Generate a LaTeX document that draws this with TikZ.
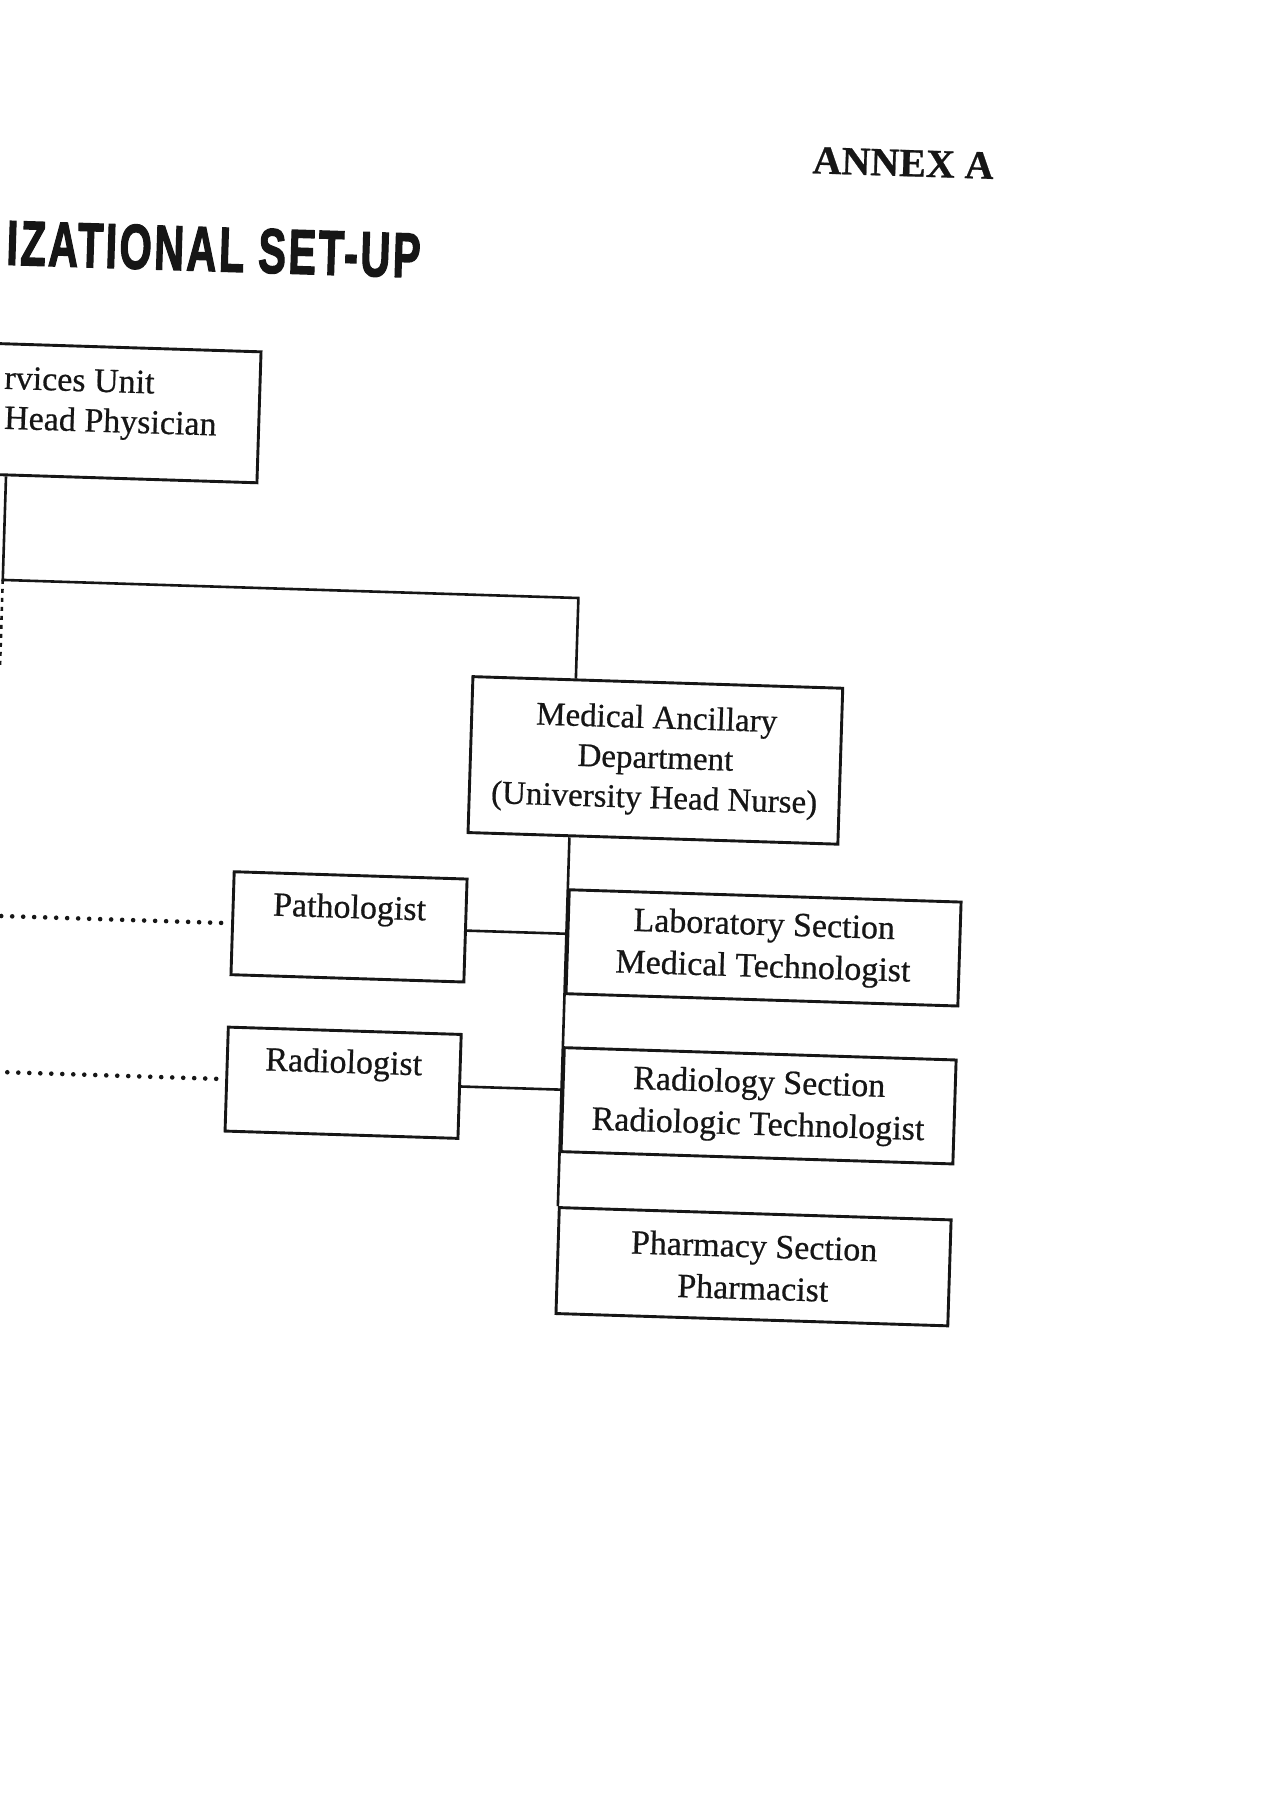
\documentclass[tikz,border=0pt]{standalone}
\usepackage{fontspec}
\usepackage{graphicx}
\setmainfont{Liberation Serif}[FakeBold=0.6]
\newfontfamily\titlefont{Liberation Sans}[BoldFeatures={FakeBold=2.5}, LetterSpace=6]
\definecolor{ink}{HTML}{161616}
\begin{document}
\begin{tikzpicture}[x=0.5pt,y=0.5pt,
  sbox/.style={draw=ink, line width=1.45pt, inner sep=0pt, align=center, text=ink, font=\fontsize{17pt}{21pt}\selectfont},
  lbl/.style={inner sep=0pt, text=ink, font=\fontsize{17pt}{21pt}\selectfont},
  link/.style={draw=ink, line width=1.3pt},
  dotline/.style={draw=ink, line width=2.3pt, line cap=round, dash pattern=on 0pt off 5.5pt},
  vdash/.style={draw=ink, line width=1.3pt, dash pattern=on 2pt off 2.5pt},
]
\useasboundingbox (0,0) rectangle (1275,1800);
\fill[white] (0,0) rectangle (1275,1800);
\clip (0,0) rectangle (1275,1800);
\begin{scope}[rotate around={-1.8:(640,900)}, transform shape]
  % headings
  \node[inner sep=0pt, text=ink, font=\bfseries\fontsize{20pt}{24pt}\selectfont] (annex) at (880,1645) {ANNEX A};
  \node[anchor=west, inner sep=0pt, text=ink] (title) at (-14,1537) {\resizebox{207pt}{22pt}{\titlefont\bfseries IZATIONAL SET-UP}};

  % top box (cut at the left edge)
  \node[sbox, minimum width=197pt, minimum height=65.5pt] (phys) at (47,1370.5) {};
  \node[lbl, anchor=base west] (physA) at (-12,1391) {rvices Unit};
  \node[lbl, anchor=base west] (physB) at (-11,1351) {Head Physician};

  % department
  \node[sbox, font=\fontsize{16.5pt}{20pt}\selectfont, minimum width=185pt, minimum height=78pt] (med) at (651,1040) {Medical Ancillary\\Department\\(University Head Nurse)};

  % sections
  \node[sbox, minimum width=196pt, minimum height=52pt] (lab) at (765,856) {Laboratory Section\\Medical Technologist};
  \node[sbox, minimum width=196pt, minimum height=52pt] (rads) at (765,698) {Radiology Section\\Radiologic Technologist};
  \node[sbox, minimum width=196pt, minimum height=53pt] (pha) at (765,537) {Pharmacy Section\\Pharmacist};

  % specialists
  \node[sbox, minimum width=116.5pt, minimum height=51.5pt] (path) at (350,864) {};
  \node[lbl] (pathT) at (350,881) {Pathologist};
  \node[sbox, minimum width=116.5pt, minimum height=52pt] (radl) at (349,708) {};
  \node[lbl] (radlT) at (349,726) {Radiologist};

  % connectors
  \coordinate (jL) at (-7,1200);
  \coordinate (trunk) at (569,1200);
  \coordinate (dV) at (-7,1115);
  \draw[link] (jL |- phys.south) -- (jL) -- (trunk) -- (trunk |- med.north);
  \draw[link] (med.south -| lab.west) -- (pha.north west);
  \draw[link] (path.east) -- (path.east -| lab.west);
  \draw[link] (radl.east) -- (radl.east -| lab.west);
  \draw[vdash] (jL) -- (dV);

  \coordinate (dP) at (-20,864);
  \coordinate (dR) at (-20,708);
  \draw[dotline] (dP) -- (path.west);
  \draw[dotline] (dR) -- (radl.west);
\end{scope}
\end{tikzpicture}
\end{document}
